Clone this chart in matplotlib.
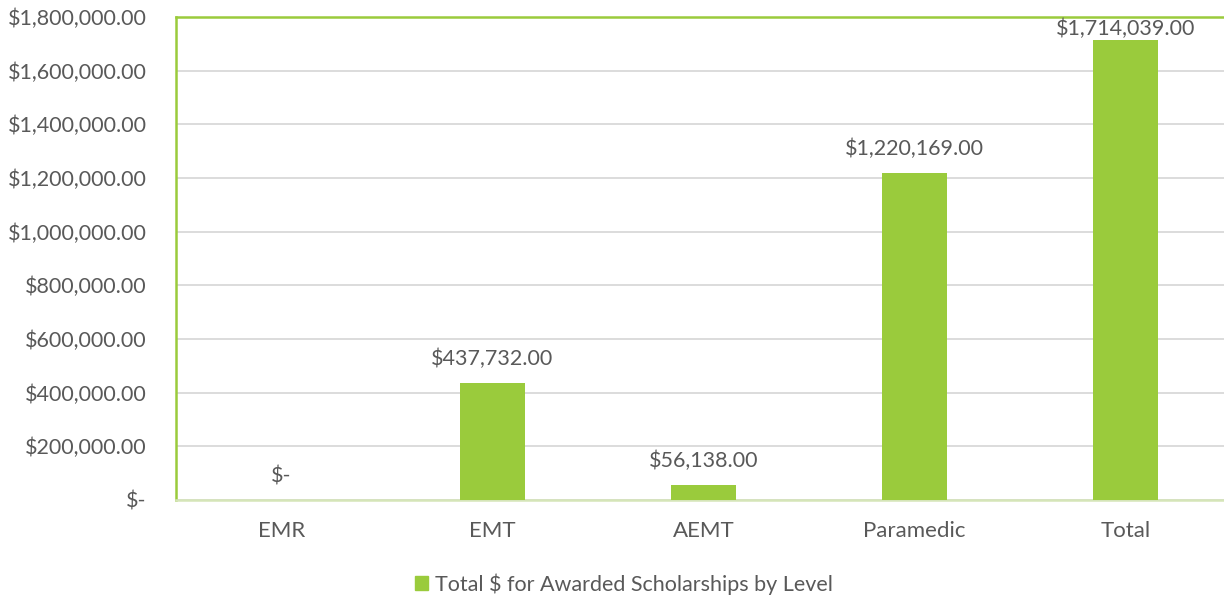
import matplotlib.pyplot as plt
import numpy as np
from matplotlib.patches import Patch

levels = ["EMR", "EMT", "AEMT", "Paramedic", "Total"]
amounts = [0, 437732, 56138, 1220169, 1714039]
series_name = "Total $ for Awarded Scholarships by Level"

green = "#9ACB3C"
txt = "#595959"

def money(v):
    if v == 0:
        return "$-"
    return "${:,.2f}".format(v)

plt.rcParams['font.family'] = ['Lato', 'DejaVu Sans']

fig = plt.figure(figsize=(12.24, 6.01), dpi=100)
ax = fig.add_axes([176/1224, 101/601, 1055/1224, 483/601])

ymax = 1800000
x = np.arange(len(levels))
ax.bar(x, amounts, width=0.31, color=green, zorder=3)
for xi, v in zip(x, amounts):
    # excel keeps the label inside the plot area
    if v > ymax * 0.95:
        ax.annotate(money(v), (xi, ymax), xytext=(0, -1), textcoords="offset points",
                    ha="center", va="top", fontsize=15.5, color=txt)
    else:
        ax.annotate(money(v), (xi, v), xytext=(0, 10), textcoords="offset points",
                    ha="center", va="bottom", fontsize=15.5, color=txt)

ax.set_xlim(-0.5, 4.5)
ax.set_ylim(0, ymax)
ticks = np.arange(0, ymax + 1, 200000)
ax.set_yticks(ticks)
ax.set_yticklabels([money(t) for t in ticks])
ax.set_xticks(x)
ax.set_xticklabels(levels)
ax.tick_params(axis="both", length=0, labelcolor=txt)
ax.tick_params(axis="x", pad=15, labelsize=16)
ax.tick_params(axis="y", pad=21, labelsize=15.5)
ax.yaxis.grid(True, color="#d9d9d9", linewidth=1.3, zorder=0)

for side in ["left", "top"]:
    ax.spines[side].set_color(green)
    ax.spines[side].set_linewidth(1.8)
ax.spines["bottom"].set_color("#d5e5b8")
ax.spines["bottom"].set_linewidth(1.8)
ax.spines["right"].set_visible(False)

fig.legend(handles=[Patch(color=green, label=series_name)], loc="center",
           bbox_to_anchor=(624/1224, 1 - 584/601), frameon=False,
           fontsize=15.5, labelcolor=txt, handlelength=0.6, handleheight=0.6,
           handletextpad=0.3)

fig.savefig("out.png", dpi=100)
